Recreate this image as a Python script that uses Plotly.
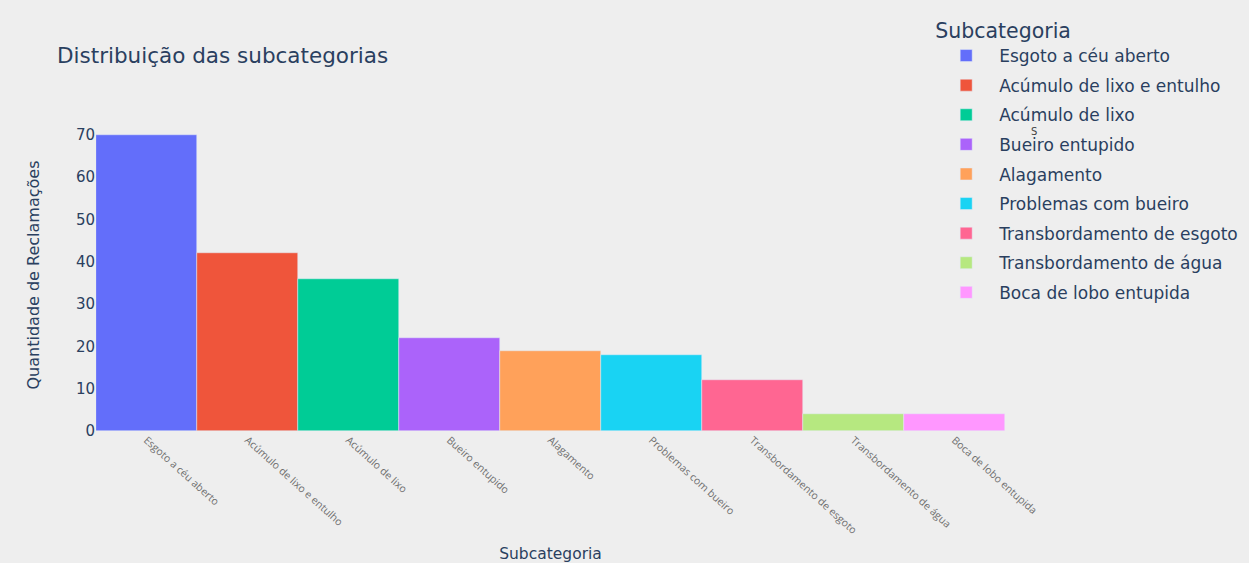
import plotly.graph_objects as go

categories = [
    "Esgoto a céu aberto",
    "Acúmulo de lixo e entulho",
    "Acúmulo de lixo",
    "Bueiro entupido",
    "Alagamento",
    "Problemas com bueiro",
    "Transbordamento de esgoto",
    "Transbordamento de água",
    "Boca de lobo entupida",
]
counts = [70, 42, 36, 22, 19, 18, 12, 4, 4]
colors = ["#636EFA", "#EF553B", "#00CC96", "#AB63FA", "#FFA15A",
          "#19D3F3", "#FF6692", "#B6E880", "#FF97FF"]

fig = go.Figure()
for cat, val, col in zip(categories, counts, colors):
    fig.add_trace(go.Bar(
        x=[cat], y=[val], name=cat, legendgroup=cat,
        marker=dict(color=col, line=dict(color="#E5ECF6", width=0.5)),
    ))

MAIN_FONT = "DejaVu Sans"
L, R, T, B = 96, 244, 119, 132
W, H = 1249, 563
PW, PH = W - L - R, H - T - B
fig.update_layout(
    width=W, height=H,
    barmode="relative", bargap=0,
    paper_bgcolor="#eeeeee", plot_bgcolor="rgba(0,0,0,0)",
    font=dict(family=MAIN_FONT, color="#2a3f5f"),
    margin=dict(l=L, r=R, t=T, b=B, pad=0, autoexpand=False),
    title=dict(text="Distribuição das subcategorias", x=57/W, xanchor="left",
               y=1 - 55/H, yanchor="middle",
               font=dict(size=21.5, family=MAIN_FONT, color="#2a3f5f")),
    legend=dict(
        title=dict(text="Subcategoria", font=dict(size=20.5, family=MAIN_FONT)),
        font=dict(size=17, family=MAIN_FONT),
        x=0.921, xanchor="left", y=1.345, yanchor="top",
        bgcolor="rgba(0,0,0,0)", tracegroupgap=4.5, itemwidth=56,
        maxheight=1.0,
    ),
    xaxis=dict(
        title=dict(text="Subcategoria", font=dict(size=15.5, family=MAIN_FONT), standoff=20),
        tickangle=42, tickfont=dict(size=10.5, family="Open Sans", color="#707070"),
        showgrid=False, zeroline=False, showline=False, automargin=False,
    ),
    yaxis=dict(
        title=dict(text="Quantidade de Reclamações", font=dict(size=16, family=MAIN_FONT), standoff=32),
        range=[0, 73.68], tickvals=[0, 10, 20, 30, 40, 50, 60, 70],
        tickfont=dict(size=15, family=MAIN_FONT),
        showgrid=False, zeroline=False, showline=False, automargin=False,
    ),
    annotations=[dict(text="S", x=(1039 - L) / PW, y=(431 - 124) / PH,
                      xref="paper", yref="paper", showarrow=False,
                      font=dict(size=10, color="#444444"))],
)

fig.write_html("out.html", config={"displayModeBar": False},
               post_script="document.body.style.margin='0';")
